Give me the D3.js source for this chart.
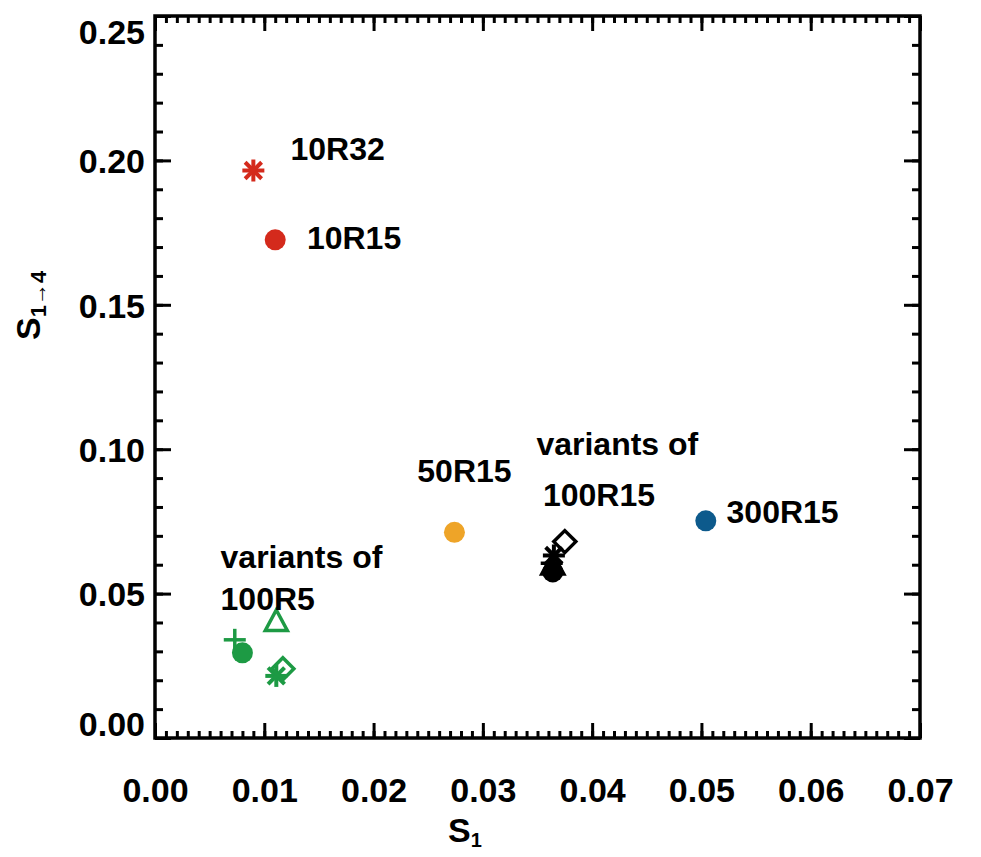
<!DOCTYPE html>
<html>
<head>
<meta charset="utf-8">
<script src="https://cdn.jsdelivr.net/npm/d3@7"></script>
<style>
  body { margin: 0; background: #fff; }
  svg text { font-family: "Liberation Sans", Arial, sans-serif; font-weight: bold; fill: #000; }
</style>
</head>
<body>
<svg id="chart" width="981" height="857"></svg>
<script>
// Simulation runs: S1 vs S1->4
const xTicks = [0.00, 0.01, 0.02, 0.03, 0.04, 0.05, 0.06, 0.07];
const yTicks = [0.00, 0.05, 0.10, 0.15, 0.20, 0.25];

// single runs (name, S1, S1->4, colour, symbol)
const runNames  = ["10R32", "10R15", "50R15", "300R15"];
const runS1     = [0.0090, 0.0110, 0.0274, 0.0504];
const runS14    = [0.1965, 0.1725, 0.0712, 0.0752];
const runColors = ["#d42a1c", "#d42a1c", "#eea428", "#0d5a8c"];
const runSymbol = ["asterisk", "circle", "circle", "circle"];

// variants of 100R5 (green)
const v5Symbol = ["plus", "circle", "triangle", "asterisk", "diamond"];
const v5S1     = [0.0073, 0.0080, 0.0111, 0.0111, 0.0117];
const v5S14    = [0.0340, 0.0295, 0.0405, 0.0215, 0.0240];

// variants of 100R15 (black)
const v15Symbol = ["plus", "triangle", "circle", "asterisk", "diamond"];
const v15S1     = [0.0363, 0.0364, 0.0364, 0.0365, 0.0375];
const v15S14    = [0.0605, 0.0600, 0.0575, 0.0632, 0.0680];

// text annotations
const noteText = ["10R32", "10R15", "50R15", "variants of", "100R15", "300R15", "variants of", "100R5"];
const noteX    = [0.0124, 0.0139, 0.0240, 0.0349, 0.0355, 0.0523, 0.0060, 0.0060];
const noteY    = [0.2040, 0.1732, 0.0927, 0.1020, 0.0844, 0.0785, 0.0629, 0.0484];

const svg = d3.select("#chart");
const m = { left: 155, right: 920, top: 16, bottom: 738 };

const x = d3.scaleLinear().domain([0, 0.07]).range([m.left, m.right]);
const y = d3.scaleLinear().domain([0, 0.25]).range([m.bottom, m.top]);

const g = svg.append("g");

// frame
g.append("rect")
  .attr("x", m.left).attr("y", m.top)
  .attr("width", m.right - m.left).attr("height", m.bottom - m.top)
  .attr("fill", "none").attr("stroke", "#000").attr("stroke-width", 3.5);

const xMinor = d3.range(0, 71).map(i => i * 0.001);
const yMinor = d3.range(0, 26).map(i => i * 0.01);
const tickStyle = sel => {
  sel.select(".domain").remove();
  sel.selectAll("line").attr("stroke", "#000").attr("stroke-width", 3);
  sel.selectAll("text").remove();
};

// minor ticks, all four sides, pointing inward
g.append("g").attr("transform", `translate(0,${m.bottom})`)
  .call(d3.axisTop(x).tickValues(xMinor).tickSize(7)).call(tickStyle);
g.append("g").attr("transform", `translate(0,${m.top})`)
  .call(d3.axisBottom(x).tickValues(xMinor).tickSize(7)).call(tickStyle);
g.append("g").attr("transform", `translate(${m.left},0)`)
  .call(d3.axisRight(y).tickValues(yMinor).tickSize(8)).call(tickStyle);
g.append("g").attr("transform", `translate(${m.right},0)`)
  .call(d3.axisLeft(y).tickValues(yMinor).tickSize(8)).call(tickStyle);

// major ticks
g.append("g").attr("transform", `translate(0,${m.bottom})`)
  .call(d3.axisTop(x).tickValues(xTicks).tickSize(15)).call(tickStyle);
g.append("g").attr("transform", `translate(0,${m.top})`)
  .call(d3.axisBottom(x).tickValues(xTicks).tickSize(15)).call(tickStyle);
g.append("g").attr("transform", `translate(${m.left},0)`)
  .call(d3.axisRight(y).tickValues(yTicks).tickSize(16)).call(tickStyle);
g.append("g").attr("transform", `translate(${m.right},0)`)
  .call(d3.axisLeft(y).tickValues(yTicks).tickSize(16)).call(tickStyle);

// tick labels
const xl = d3.axisBottom(x).tickValues(xTicks).tickSize(0).tickPadding(0).tickFormat(d3.format(".2f"));
g.append("g").attr("transform", `translate(0,${m.bottom + 40})`).call(xl)
  .call(s => s.select(".domain").remove())
  .selectAll("text").attr("font-size", 34).attr("dy", 0).attr("y", 24);

// end labels are nudged inward so they stay inside the page
const yl = d3.axisLeft(y).tickValues(yTicks).tickSize(0).tickPadding(0).tickFormat(d3.format(".2f"));
g.append("g").attr("transform", `translate(${m.left - 10},0)`).call(yl)
  .call(s => s.select(".domain").remove())
  .selectAll("text").attr("font-size", 34)
  .attr("dy", d => d === 0.25 ? "0.8em" : d === 0 ? "-0.08em" : "0.36em");

svg.selectAll("text").style("font-family", '"Liberation Sans", Arial, sans-serif').style("font-weight", "bold");

// axis titles
const xt = svg.append("text").attr("x", 448).attr("y", 842).attr("font-size", 34);
xt.append("tspan").text("S");
xt.append("tspan").attr("font-size", 20).attr("dy", 5).text("1");

const yt = svg.append("text").attr("transform", "translate(40,340) rotate(-90)").attr("font-size", 34);
yt.append("tspan").text("S");
yt.append("tspan").attr("font-size", 22).attr("dy", 6).text("1→4");

// marker symbols
function drawSymbol(sel, sym, color) {
  const s = 11;
  if (sym === "circle") {
    sel.append("circle").attr("r", 10.5).attr("fill", color);
  } else if (sym === "asterisk") {
    const d = [[-s, 0, s, 0], [0, -s, 0, s], [-s * 0.75, -s * 0.75, s * 0.75, s * 0.75], [-s * 0.75, s * 0.75, s * 0.75, -s * 0.75]];
    d.forEach(l => sel.append("line").attr("x1", l[0]).attr("y1", l[1]).attr("x2", l[2]).attr("y2", l[3])
      .attr("stroke", color).attr("stroke-width", 4));
  } else if (sym === "plus") {
    [[-s, 0, s, 0], [0, -s, 0, s]].forEach(l => sel.append("line")
      .attr("x1", l[0]).attr("y1", l[1]).attr("x2", l[2]).attr("y2", l[3])
      .attr("stroke", color).attr("stroke-width", 3.5));
  } else if (sym === "triangle") {
    sel.append("path").attr("d", `M0,${-s}L${s},${s * 0.85}L${-s},${s * 0.85}Z`)
      .attr("fill", "none").attr("stroke", color).attr("stroke-width", 3.5);
  } else if (sym === "diamond") {
    sel.append("path").attr("d", `M0,${-s}L${s},0L0,${s}L${-s},0Z`)
      .attr("fill", "none").attr("stroke", color).attr("stroke-width", 3.5);
  }
}

const pts = g.append("g");
function plotSeries(xs, ys, syms, colors) {
  xs.forEach((v, i) => {
    const mk = pts.append("g").attr("transform", `translate(${x(v)},${y(ys[i])})`);
    drawSymbol(mk, syms[i], Array.isArray(colors) ? colors[i] : colors);
  });
}
plotSeries(v5S1, v5S14, v5Symbol, "#1d9a44");
plotSeries(v15S1, v15S14, v15Symbol, "#000");
plotSeries(runS1, runS14, runSymbol, runColors);

// annotations
g.append("g").selectAll("text").data(noteText).join("text")
  .attr("x", (d, i) => x(noteX[i]))
  .attr("y", (d, i) => y(noteY[i]))
  .attr("dy", "0.36em")
  .attr("font-size", 32)
  .style("font-family", '"Liberation Sans", Arial, sans-serif')
  .style("font-weight", "bold")
  .text(d => d);
</script>
</body>
</html>
